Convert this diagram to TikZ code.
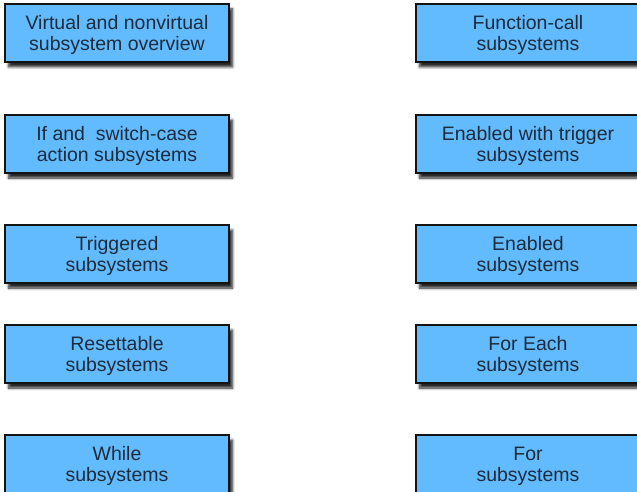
\documentclass[tikz,border=0pt]{standalone}
\usepackage{fontspec}
\setmainfont{Liberation Sans}
\usetikzlibrary{shadows.blur}
\definecolor{boxfill}{RGB}{99,187,255}
\definecolor{boxtext}{RGB}{28,44,60}
\definecolor{boxline}{RGB}{20,20,20}
\tikzset{
  sysbox/.style={draw=boxline, line width=1.4pt, fill=boxfill, text=boxtext,
    minimum width=224pt, minimum height=58pt, inner sep=0pt, align=center,
    text depth=-1.5pt,
    font=\fontsize{19.5}{21}\selectfont,
    blur shadow={shadow xshift=3.5pt, shadow yshift=-5pt, shadow blur steps=6, shadow blur radius=2.5pt, shadow opacity=85}}
}
\begin{document}
\begin{tikzpicture}[x=1pt,y=-1pt]
\useasboundingbox (0,0) rectangle (637,492);
\clip (0,0) rectangle (637,492);
\node[sysbox] (a1) at (117,33) {Virtual and nonvirtual\\subsystem overview};
\node[sysbox] (a2) at (117,144) {If and\ \ switch-case\\action subsystems};
\node[sysbox] (a3) at (117,254) {Triggered\\subsystems};
\node[sysbox] (a4) at (117,354) {Resettable\\subsystems};
\node[sysbox] (a5) at (117,464) {While\\subsystems};
\node[sysbox] (b1) at (528,33) {Function-call\\subsystems};
\node[sysbox] (b2) at (528,144) {Enabled with trigger\\subsystems};
\node[sysbox] (b3) at (528,254) {Enabled\\subsystems};
\node[sysbox] (b4) at (528,354) {For Each\\subsystems};
\node[sysbox] (b5) at (528,464) {For\\subsystems};
\end{tikzpicture}
\end{document}
